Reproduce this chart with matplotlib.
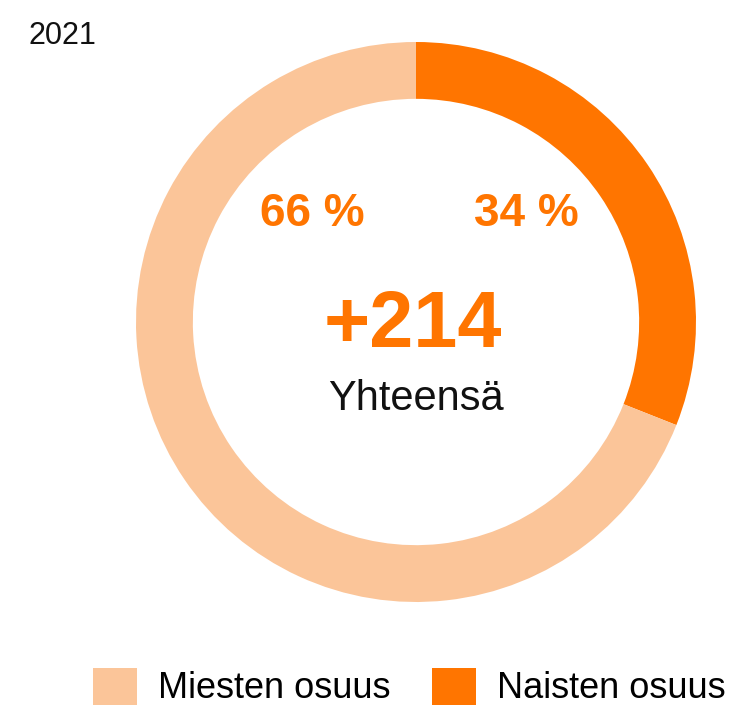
import matplotlib.pyplot as plt
from matplotlib.patches import Patch

W, H = 729, 706

labels = ['Naisten osuus', 'Miesten osuus']
drawn_share = [31, 69]          # arc split as drawn in the picture
label_text = ['34 %', '66 %']   # printed percentages
colors = ['#FF7500', '#FBC599']
year = '2021'
total = '+214'
total_label = 'Yhteensä'

plt.rcParams['font.family'] = ['Liberation Sans', 'DejaVu Sans']

fig = plt.figure(figsize=(W / 100, H / 100), dpi=100)

# donut: centre (416, 322) px, outer radius 280 px
cx, cy, r = 416, 322, 280
ax = fig.add_axes([(cx - r) / W, (H - cy - r) / H, 2 * r / W, 2 * r / H])
ax.pie(drawn_share, colors=colors, startangle=90, counterclock=False,
       wedgeprops=dict(width=0.203, linewidth=0))
ax.set_xlim(-1, 1)
ax.set_ylim(-1, 1)
ax.axis('off')

def px(x, y):
    return x / W, 1 - y / H

orange = colors[0]
fig.text(*px(28, 36), year, fontsize=22, ha='left', va='center', color='#111111')
fig.text(*px(312, 214), label_text[1], fontsize=33, fontweight='bold',
         color=orange, ha='center', va='center')
fig.text(*px(526, 214), label_text[0], fontsize=33, fontweight='bold',
         color=orange, ha='center', va='center')
fig.text(*px(413, 326), total, fontsize=57, fontweight='bold',
         color=orange, ha='center', va='center')
fig.text(*px(416, 399), total_label, fontsize=30, color='#111111',
         ha='center', va='center')

handles = [Patch(facecolor=colors[1], label=labels[1]),
           Patch(facecolor=colors[0], label=labels[0])]
fig.legend(handles=handles, loc='center right', ncol=2, frameon=False,
           fontsize=26, handlelength=1.2, handleheight=1.2,
           handletextpad=0.6, columnspacing=1.15, borderpad=0,
           borderaxespad=0, bbox_to_anchor=px(726, 687))

fig.savefig('out.png', dpi=100)
